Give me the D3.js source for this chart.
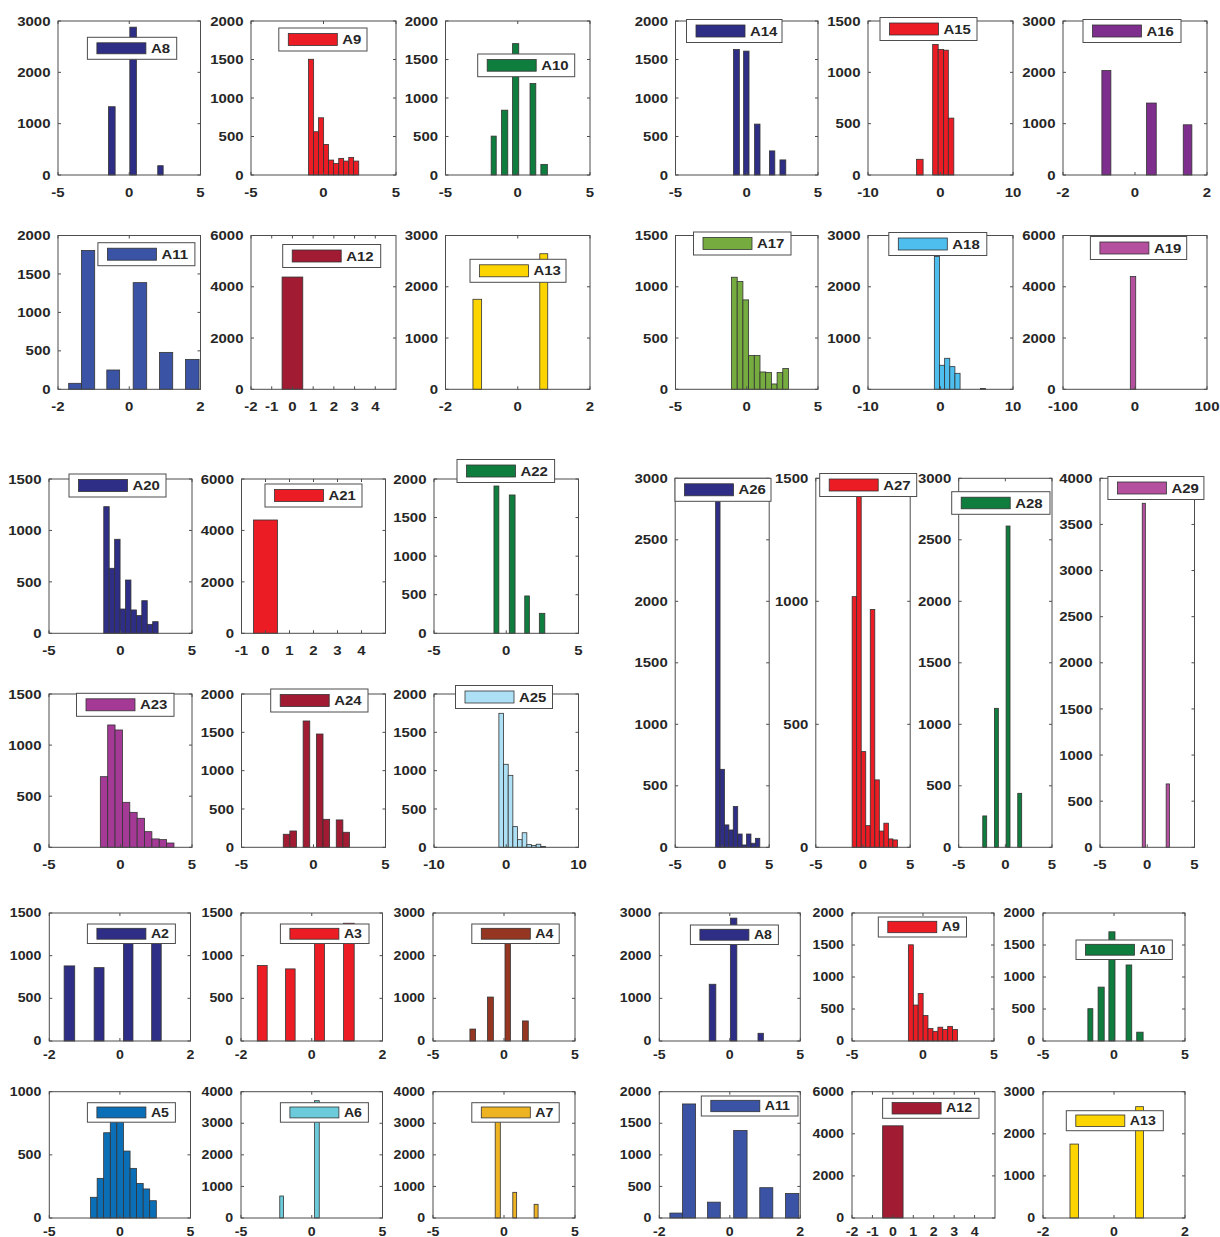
<!DOCTYPE html>
<html>
<head>
<meta charset="utf-8">
<script src="https://cdn.jsdelivr.net/npm/d3@7"></script>
<style>
  body { margin: 0; background: #fff; }
  svg { display: block; }
</style>
</head>
<body>
<svg id="fig" width="1220" height="1237"></svg>
<script>
// ---- histogram bins: [left edge, right edge, count] ----
const binsA2  = [[-1.58,-1.28,880],[-0.73,-0.45,860],[0.10,0.37,1290],[0.90,1.17,1320]];
const binsA3  = [[-1.54,-1.26,885],[-0.74,-0.47,845],[0.08,0.36,1300],[0.90,1.20,1380]];
const binsA4  = [[-2.40,-2.00,280],[-1.16,-0.75,1030],[0.07,0.45,2500],[1.30,1.71,470]];
const binsA5  = [[-2.08,-1.61,164],[-1.61,-1.15,314],[-1.15,-0.68,675],[-0.68,-0.22,830],[-0.22,0.25,800],
                 [0.25,0.72,530],[0.72,1.18,393],[1.18,1.65,274],[1.65,2.11,230],[2.11,2.58,137]];
const binsA6  = [[-2.26,-1.99,697],[0.20,0.53,3715]];
const binsA7  = [[-0.62,-0.26,3300],[0.62,0.89,813],[2.12,2.40,433]];
const binsA8  = [[-1.46,-0.99,1330],[0.04,0.50,2880],[2.00,2.38,181]];
const binsA9  = [[-1.03,-0.68,1503],[-0.68,-0.34,562],[-0.34,0.01,743],[0.01,0.35,397],[0.35,0.70,194],
                 [0.70,1.05,151],[1.05,1.39,216],[1.39,1.74,181],[1.74,2.08,229],[2.08,2.43,181]];
const binsA10 = [[-1.84,-1.49,505],[-1.12,-0.69,842],[-0.36,0.07,1706],[0.85,1.25,1188],[1.60,2.05,138]];
const binsA11 = [[-1.70,-1.34,78],[-1.34,-0.97,1806],[-0.63,-0.27,251],[0.11,0.49,1387],[0.85,1.22,480],[1.58,1.96,389]];
const binsA12 = [[-0.50,0.50,4380]];
const binsA13 = [[-1.24,-1.00,1756],[0.61,0.83,2644]];
const binsA14 = [[-0.93,-0.52,1630],[-0.22,0.16,1609],[0.55,0.93,661],[1.59,1.97,313],[2.33,2.74,196]];
const binsA15 = [[-3.30,-2.40,153],[-1.08,-0.32,1272],[-0.32,0.43,1223],[0.43,1.08,1216],[1.08,1.84,554]];
const binsA16 = [[-0.92,-0.67,2035],[0.32,0.59,1402],[1.34,1.58,978]];
const binsA17 = [[-1.07,-0.67,1093],[-0.67,-0.27,1051],[-0.27,0.13,872],[0.13,0.53,329],[0.53,0.93,329],
                 [0.93,1.33,169],[1.33,1.73,163],[1.73,2.13,52],[2.13,2.53,163],[2.53,2.93,202]];
const binsA18 = [[-0.85,-0.14,2590],[-0.14,0.57,469],[0.57,1.28,605],[1.28,1.99,442],[1.99,2.70,312],[5.50,6.20,15]];
const binsA19 = [[-6.5,1.0,4400]];
const binsA20 = [[-1.17,-0.79,1231],[-0.79,-0.41,632],[-0.41,-0.03,914],[-0.03,0.35,236],[0.35,0.73,518],
                 [0.73,1.11,227],[1.11,1.49,172],[1.49,1.87,317],[1.87,2.25,87],[2.25,2.63,113]];
const binsA21 = [[-0.50,0.50,4406]];
const binsA22 = [[-0.85,-0.51,1909],[0.21,0.61,1793],[1.28,1.60,484],[2.29,2.67,259]];
const binsA23 = [[-1.41,-0.895,691],[-0.895,-0.38,1197],[-0.38,0.135,1148],[0.135,0.65,440],[0.65,1.165,342],
                 [1.165,1.68,284],[1.68,2.195,153],[2.195,2.71,82],[2.71,3.225,75],[3.225,3.74,42]];
const binsA24 = [[-2.10,-1.64,170],[-1.64,-1.18,213],[-0.72,-0.26,1648],[0.20,0.66,1478],[0.66,1.12,365],
                 [1.58,2.04,357],[2.04,2.50,196]];
const binsA25 = [[-1.02,-0.375,1748],[-0.375,0.27,1083],[0.27,0.915,939],[0.915,1.56,270],[1.56,2.205,100],
                 [2.205,2.85,190],[2.85,3.495,35],[3.495,4.14,25],[4.14,4.785,40],[4.785,5.43,12]];
const binsA26 = [[-0.70,-0.23,2900],[-0.23,0.24,634],[0.24,0.71,182],[0.71,1.18,141],[1.18,1.65,331],
                 [1.65,2.12,108],[2.12,2.59,19],[2.59,3.06,108],[3.06,3.53,33],[3.53,4.00,73]];
const binsA27 = [[-1.15,-0.67,1019],[-0.67,-0.19,1460],[-0.19,0.29,389],[0.29,0.77,88],[0.77,1.25,967],
                 [1.25,1.73,274],[1.73,2.21,66],[2.21,2.69,98],[2.69,3.17,34],[3.17,3.65,30]];
const binsA28 = [[-2.42,-2.00,255],[-1.17,-0.75,1130],[0.08,0.50,2612],[1.33,1.75,439]];
const binsA29 = [[-0.53,-0.20,3729],[2.00,2.35,687]];

// ---- x tick labels ----
const ticksPm2   = [-2, 0, 2];
const ticksPm5   = [-5, 0, 5];
const ticksPm10  = [-10, 0, 10];
const ticksPm100 = [-100, 0, 100];
const ticksM2to4 = [-2, -1, 0, 1, 2, 3, 4];
const ticksM1to4 = [-1, 0, 1, 2, 3, 4];

// ---- y axis limits and tick steps ----
const yLimits = { A2:[1500,500], A3:[1500,500], A4:[3000,1000], A5:[1000,500], A6:[4000,1000], A7:[4000,1000],
  A8:[3000,1000], A9:[2000,500], A10:[2000,500], A11:[2000,500], A12:[6000,2000], A13:[3000,1000],
  A14:[2000,500], A15:[1500,500], A16:[3000,1000], A17:[1500,500], A18:[3000,1000], A19:[6000,2000],
  A20:[1500,500], A21:[6000,2000], A22:[2000,500], A23:[1500,500], A24:[2000,500], A25:[2000,500],
  A26:[3000,500], A27:[1500,500], A28:[3000,500], A29:[4000,500] };

// x axis: [domain, ticks]
const xAxes = { A2:[[-2,2],ticksPm2], A3:[[-2,2],ticksPm2], A4:[[-5,5],ticksPm5], A5:[[-5,5],ticksPm5],
  A6:[[-5,5],ticksPm5], A7:[[-5,5],ticksPm5], A8:[[-5,5],ticksPm5], A9:[[-5,5],ticksPm5], A10:[[-5,5],ticksPm5],
  A11:[[-2,2],ticksPm2], A12:[[-2,5],ticksM2to4], A13:[[-2,2],ticksPm2], A14:[[-5,5],ticksPm5],
  A15:[[-10,10],ticksPm10], A16:[[-2,2],ticksPm2], A17:[[-5,5],ticksPm5], A18:[[-10,10],ticksPm10],
  A19:[[-100,100],ticksPm100], A20:[[-5,5],ticksPm5], A21:[[-1,5],ticksM1to4], A22:[[-5,5],ticksPm5],
  A23:[[-5,5],ticksPm5], A24:[[-5,5],ticksPm5], A25:[[-10,10],ticksPm10], A26:[[-5,5],ticksPm5],
  A27:[[-5,5],ticksPm5], A28:[[-5,5],ticksPm5], A29:[[-5,5],ticksPm5] };

const bins = { A2:binsA2, A3:binsA3, A4:binsA4, A5:binsA5, A6:binsA6, A7:binsA7, A8:binsA8, A9:binsA9,
  A10:binsA10, A11:binsA11, A12:binsA12, A13:binsA13, A14:binsA14, A15:binsA15, A16:binsA16, A17:binsA17,
  A18:binsA18, A19:binsA19, A20:binsA20, A21:binsA21, A22:binsA22, A23:binsA23, A24:binsA24, A25:binsA25,
  A26:binsA26, A27:binsA27, A28:binsA28, A29:binsA29 };

const colors = { A2:"#2f2e87", A3:"#ec1c25", A4:"#953622", A5:"#0b6fb8", A6:"#6ccbdb", A7:"#eeb322",
  A8:"#2f2e87", A9:"#ec1c25", A10:"#0f7d3e", A11:"#3a53a4", A12:"#a11b32", A13:"#fcd500",
  A14:"#2f2e87", A15:"#ec1c25", A16:"#7e2f8e", A17:"#76ab3f", A18:"#4dbeee", A19:"#b5509f",
  A20:"#2f2e87", A21:"#ec1c25", A22:"#0f7d3e", A23:"#a43a96", A24:"#a11b32", A25:"#ade0f5",
  A26:"#2f2e87", A27:"#ec1c25", A28:"#0f7d3e", A29:"#b5509f" };

// ---- panel layout: plot box [x0,y0,x1,y1], legend [x,y,w,h], text size ----
const layout = [
  ["A8",  [58,21,200.5,175],      [87.4,37.3,89.3,22],   "L"],
  ["A9",  [251,21,396,175],       [278.8,28,88.2,23],    "L"],
  ["A10", [445.5,21,590,175],     [477.7,54,97,22.7],    "L"],
  ["A11", [58,235.5,200.5,389.3], [97.9,242.7,97,23],    "L"],
  ["A12", [251,235.5,396,389.3],  [282.7,244.5,98,23],   "L"],
  ["A13", [445.5,235.5,590,389.3],[470,259.3,96,23],     "L"],
  ["A14", [675.5,21,818,175],     [686.5,19.5,95.5,23],  "L"],
  ["A15", [868,21,1013,175],      [880,17.5,97,23],      "L"],
  ["A16", [1063,21,1207,175],     [1083,19.5,98,23],     "L"],
  ["A17", [675.5,235.5,818,389.3],[693.5,232,97.5,23],   "L"],
  ["A18", [868,235.5,1013,389.3], [888.8,232.5,98,23],   "L"],
  ["A19", [1063,235.5,1207,389.3],[1090.4,236.5,96.3,23],"L"],
  ["A20", [49,479,192,633.3],     [69,474,97,23],        "L"],
  ["A21", [241.5,479,385.5,633.3],[265,484,97,23],       "L"],
  ["A22", [434,479,578.5,633.3],  [457,459.5,97.6,23],   "L"],
  ["A23", [49,694,192,847.3],     [76.5,693.3,97.5,23],  "L"],
  ["A24", [241.5,694,385.5,847.3],[270.7,689,97.3,23],   "L"],
  ["A25", [434,694,578.5,847.3],  [455.5,685.5,97,23],   "L"],
  ["A26", [675.2,478.3,769.2,847.3],[675,478.3,96,23],   "L"],
  ["A27", [815.8,478.3,910.2,847.3],[819.7,473.5,97,23], "L"],
  ["A28", [958.7,478.3,1052,847.3], [951.7,491.7,98.3,22.6],"L"],
  ["A29", [1100,478.3,1194.5,847.3],[1107.9,476.5,96,23],"L"],
  ["A2",  [49.3,913,190.5,1041],  [87.4,924,88,19.5],    "S"],
  ["A3",  [241,913,382.5,1041],   [280.4,924,88.6,19.5], "S"],
  ["A4",  [433,913,575,1041],     [471.8,924,87.4,19.5], "S"],
  ["A5",  [49.3,1091.7,190.5,1218],[87.4,1102.7,88,19.5],"S"],
  ["A6",  [241,1091.7,382.5,1218],[280.4,1102.7,88,19.5],"S"],
  ["A7",  [433,1091.7,575,1218],  [471.8,1102.7,87.4,19.5],"S"],
  ["A8",  [659.3,913,800.3,1041], [690.4,925,88,19.5],   "S"],
  ["A9",  [852,913,994,1041],     [878.3,917,88.2,20],   "S"],
  ["A10", [1043,913,1185,1041],   [1076,940,96.3,19.5],  "S"],
  ["A11", [659.3,1091.7,800.3,1218],[701.3,1096,96.7,20],"S"],
  ["A12", [852,1091.7,995,1218],  [882.6,1098.3,96.4,20],"S"],
  ["A13", [1043,1091.7,1185,1218],[1066.3,1110.7,97,20], "S"]
];

const textStyle = {
  L: { size: 13, sx: 1.15, xOff: 17.5, yGap: 7.5, swInset: 5.5 },
  S: { size: 12, sx: 1.18, xOff: 13.5, yGap: 8,   swInset: 4.3 }
};

const svg = d3.select("#fig");
const FONT = "'Liberation Sans', Arial, Helvetica, sans-serif";

function addText(g, x, y, str, anchor, st) {
  g.append("text")
    .attr("transform", `translate(${x},${y}) scale(${st.sx},1)`)
    .attr("text-anchor", anchor)
    .attr("dominant-baseline", "central")
    .attr("font-family", FONT)
    .attr("font-weight", "bold")
    .attr("font-size", st.size)
    .attr("fill", "#262626")
    .text(str);
}

layout.forEach(([name, box, leg, sz]) => {
  const st = textStyle[sz];
  const [x0, y0, x1, y1] = box;
  const [xDom, xTicks] = xAxes[name];
  const [yMax, yStep] = yLimits[name];
  const xs = d3.scaleLinear().domain(xDom).range([x0, x1]);
  const ys = d3.scaleLinear().domain([0, yMax]).range([y1, y0]);
  const yTicks = d3.range(0, yMax + 1, yStep);
  const g = svg.append("g");

  // bars
  g.selectAll("rect.bar").data(bins[name]).join("rect")
    .attr("class", "bar")
    .attr("x", d => xs(d[0]))
    .attr("width", d => xs(d[1]) - xs(d[0]))
    .attr("y", d => ys(d[2]))
    .attr("height", d => ys(0) - ys(d[2]))
    .attr("fill", colors[name])
    .attr("stroke", "#333")
    .attr("stroke-width", 0.8);

  // axes box
  g.append("rect")
    .attr("x", x0).attr("y", y0).attr("width", x1 - x0).attr("height", y1 - y0)
    .attr("fill", "none").attr("stroke", "#4d4d4d").attr("stroke-width", 1);

  // inward tick marks on all four sides
  const tl = 3;
  xTicks.forEach(t => {
    const x = xs(t);
    g.append("line").attr("x1", x).attr("x2", x).attr("y1", y1).attr("y2", y1 - tl).attr("stroke", "#4d4d4d");
    g.append("line").attr("x1", x).attr("x2", x).attr("y1", y0).attr("y2", y0 + tl).attr("stroke", "#4d4d4d");
    addText(g, x, y1 + st.xOff, String(t), "middle", st);
  });
  yTicks.forEach(t => {
    const y = ys(t);
    g.append("line").attr("x1", x0).attr("x2", x0 + tl).attr("y1", y).attr("y2", y).attr("stroke", "#4d4d4d");
    g.append("line").attr("x1", x1).attr("x2", x1 - tl).attr("y1", y).attr("y2", y).attr("stroke", "#4d4d4d");
    addText(g, x0 - st.yGap, y, String(t), "end", st);
  });

  // legend
  const [lx, ly, lw, lh] = leg;
  g.append("rect").attr("x", lx).attr("y", ly).attr("width", lw).attr("height", lh)
    .attr("fill", "#fff").attr("stroke", "#4d4d4d").attr("stroke-width", 1);
  g.append("rect").attr("x", lx + 9.5).attr("y", ly + st.swInset)
    .attr("width", 49).attr("height", lh - 2 * st.swInset)
    .attr("fill", colors[name]).attr("stroke", "#333").attr("stroke-width", 0.8);
  addText(g, lx + 9.5 + 49 + 5, ly + lh / 2, name, "start", st);
});
</script>
</body>
</html>
